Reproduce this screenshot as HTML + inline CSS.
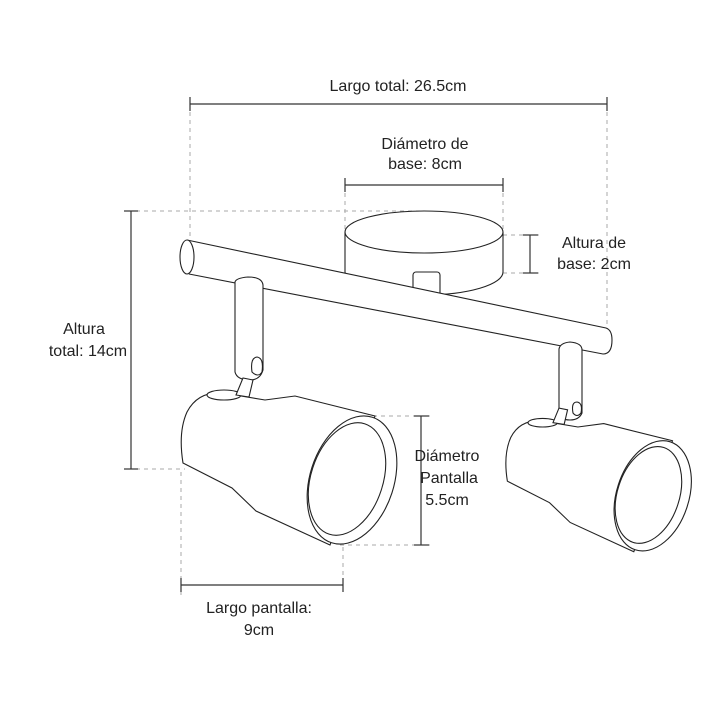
<!DOCTYPE html>
<html><head><meta charset="utf-8"><style>
html,body{margin:0;padding:0;background:#fff;width:720px;height:720px;overflow:hidden}
svg{display:block}
text{font-family:"Liberation Sans",sans-serif;font-size:16px;fill:#222;text-anchor:middle}
</style></head><body>
<svg width="720" height="720" viewBox="0 0 720 720" xmlns="http://www.w3.org/2000/svg">
<g fill="none" stroke="#aaa" stroke-width="1" stroke-dasharray="4,4">
<line x1="190" y1="104" x2="190" y2="250"/>
<line x1="607" y1="104" x2="607" y2="330"/>
<line x1="345" y1="185" x2="345" y2="232"/>
<line x1="503" y1="185" x2="503" y2="232"/>
<line x1="128" y1="211" x2="424" y2="211"/>
<line x1="503" y1="235" x2="540" y2="235"/>
<line x1="503" y1="273" x2="540" y2="273"/>
<line x1="128" y1="469" x2="185" y2="469"/>
<line x1="365" y1="416" x2="430" y2="416"/>
<line x1="340" y1="545" x2="430" y2="545"/>
<line x1="181" y1="472" x2="181" y2="595"/>
<line x1="343" y1="547" x2="343" y2="595"/>
</g>
<g fill="none" stroke="#333" stroke-width="1.2">
<line x1="190" y1="104" x2="607" y2="104"/><line x1="190" y1="97" x2="190" y2="111"/><line x1="607" y1="97" x2="607" y2="111"/>
<line x1="345" y1="185" x2="503" y2="185"/><line x1="345" y1="178" x2="345" y2="192"/><line x1="503" y1="178" x2="503" y2="192"/>
<line x1="530" y1="235" x2="530" y2="273"/><line x1="523" y1="235" x2="538" y2="235"/><line x1="523" y1="273" x2="538" y2="273"/>
<line x1="131" y1="211" x2="131" y2="469"/><line x1="124" y1="211" x2="138" y2="211"/><line x1="124" y1="469" x2="138" y2="469"/>
<line x1="421" y1="416" x2="421" y2="545"/><line x1="414" y1="416" x2="429" y2="416"/><line x1="414" y1="545" x2="429" y2="545"/>
<line x1="181" y1="585" x2="343" y2="585"/><line x1="181" y1="578" x2="181" y2="592"/><line x1="343" y1="578" x2="343" y2="592"/>
</g>
<g fill="#fff" stroke="#222" stroke-width="1.1">
<path d="M345,232 L345,272 A79,23 0 0 0 503,272 L503,232"/>
<ellipse cx="424" cy="232" rx="79" ry="21"/>
<rect x="413" y="272" width="27" height="24" rx="3"/>
<path d="M187,240 L606,328 Q612,330 612,340 Q612,354 603,354 L189,274"/>
<ellipse cx="187" cy="257" rx="7" ry="17"/>
<path d="M235,282 Q236,278 248,277 Q262,277 263,285 L263,370 Q260,380 250,380 Q237,380 235,372 Z"/>
<path d="M252,372 Q250,358 257,357 Q264,358 262,372 Q258,378 252,372Z"/>
<path d="M559,349 Q560,343 570,342 Q582,343 582,350 L582,413 Q579,420 570,420 Q560,420 559,413 Z"/>
<path d="M573,413 Q571,402 577,402 Q583,403 581,413 Q577,418 573,413Z"/>
</g>
<g fill="#fff" stroke="#222" stroke-width="1.1">
<path d="M223,393 Q198,391 187,412 Q178,432 183,463 L232,488 L256,511 L330,545 L375,416 L295,396 L265,400 Z"/>
<ellipse cx="224" cy="395" rx="17" ry="5"/>
<path d="M236,395 L243,378 L253,380 L249,397 Z"/>
<ellipse cx="352" cy="480" rx="42" ry="66" transform="rotate(18 352 480)"/>
<ellipse cx="347" cy="479" rx="36" ry="58" transform="rotate(18 347 479)"/>
</g>
<g transform="translate(350,83) scale(0.86)" fill="#fff" stroke="#222" stroke-width="1.28">
<path d="M223,393 Q198,391 187,412 Q178,432 183,463 L232,488 L256,511 L330,545 L375,416 L295,396 L265,400 Z"/>
<ellipse cx="224" cy="395" rx="17" ry="5"/>
<path d="M236,395 L243,378 L253,380 L249,397 Z"/>
<ellipse cx="352" cy="480" rx="42" ry="66" transform="rotate(18 352 480)"/>
<ellipse cx="347" cy="479" rx="36" ry="58" transform="rotate(18 347 479)"/>
</g>
<text x="398" y="91">Largo total: 26.5cm</text>
<text x="425" y="149">Diámetro de</text>
<text x="425" y="169">base: 8cm</text>
<text x="594" y="248">Altura de</text>
<text x="594" y="269">base: 2cm</text>
<text x="84" y="334">Altura</text>
<text x="88" y="356">total: 14cm</text>
<text x="447" y="461">Diámetro</text>
<text x="449" y="483">Pantalla</text>
<text x="447" y="505">5.5cm</text>
<text x="259" y="613">Largo pantalla:</text>
<text x="259" y="635">9cm</text>
</svg>
</body></html>
